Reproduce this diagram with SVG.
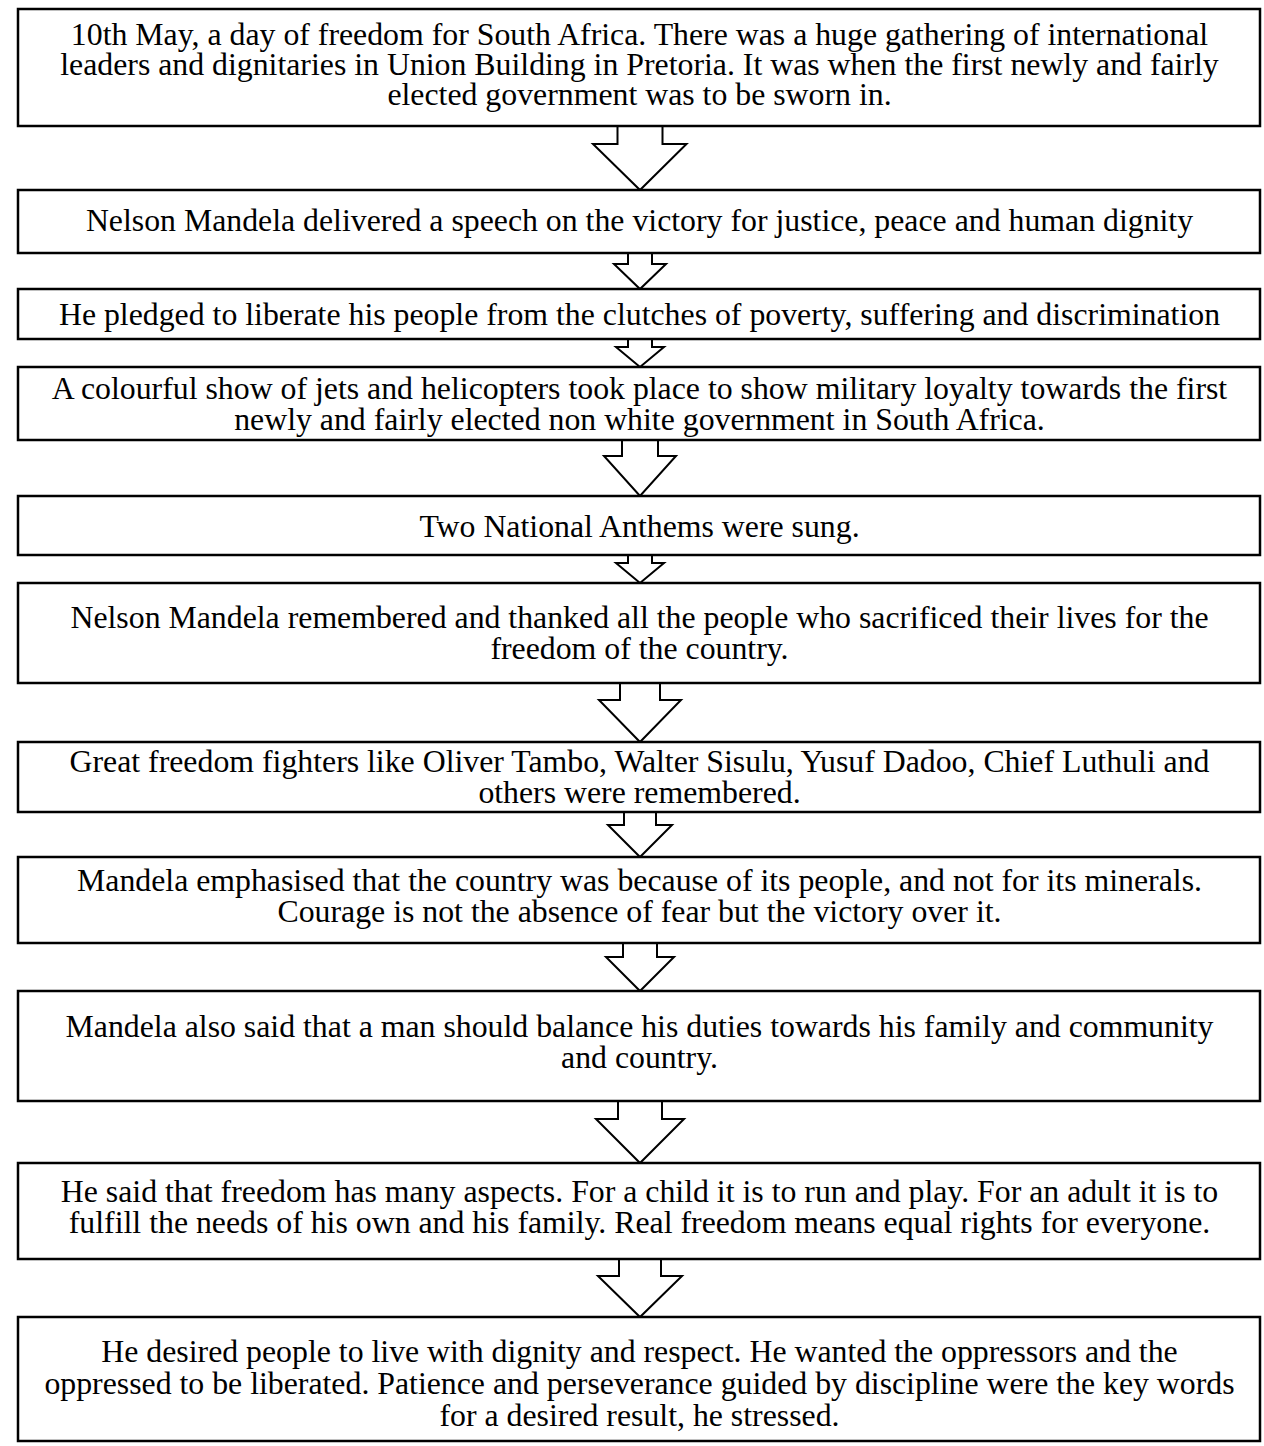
<svg xmlns="http://www.w3.org/2000/svg" width="1264" height="1446" viewBox="0 0 1264 1446">
<style>
.box{fill:#fff;stroke:#000;stroke-width:2.5}
.arr{fill:#fff;stroke:#000;stroke-width:2;stroke-linejoin:miter}
text{font-family:"Liberation Serif","Times New Roman",serif;font-size:31.8px;fill:#000;text-anchor:middle}
</style>
<rect width="1264" height="1446" fill="#fff"/>
<g id="connectors">
<polyline class="arr" points="617.5,126 617.5,144 593,144 640,190 686.5,144 662.5,144 662.5,126"/>
<polyline class="arr" points="628,253 628,264 614,264 640,289 666,264 652,264 652,253"/>
<polyline class="arr" points="628,339 628,347 616,347 640,367 664,347 652,347 652,339"/>
<polyline class="arr" points="622,440 622,456 604,456 640,496 676,456 658,456 658,440"/>
<polyline class="arr" points="628,555 628,563 616,563 640,583 664,563 652,563 652,555"/>
<polyline class="arr" points="620,683 620,700 599,700 640,742 681,700 660,700 660,683"/>
<polyline class="arr" points="624,812 624,825 608,825 640,857 672,825 656,825 656,812"/>
<polyline class="arr" points="623,943 623,957 606,957 640,991 674,957 657,957 657,943"/>
<polyline class="arr" points="618,1101 618,1119 596,1119 640,1163 684,1119 662,1119 662,1101"/>
<polyline class="arr" points="619,1259 619,1276 598,1276 640,1317 682,1276 661,1276 661,1259"/>
</g>
<g id="n1"><rect class="box" x="18" y="9" width="1242" height="117"/>
<text x="639.5" y="45">10th May, a day of freedom for South Africa. There was a huge gathering of international</text>
<text x="639.5" y="75">leaders and dignitaries in Union Building in Pretoria. It was when the first newly and fairly</text>
<text x="639.5" y="105">elected government was to be sworn in.</text></g>
<g id="n2"><rect class="box" x="18" y="190" width="1242" height="63"/>
<text x="639.5" y="231">Nelson Mandela delivered a speech on the victory for justice, peace and human dignity</text></g>
<g id="n3"><rect class="box" x="18" y="289" width="1242" height="50"/>
<text x="639.5" y="325">He pledged to liberate his people from the clutches of poverty, suffering and discrimination</text></g>
<g id="n4"><rect class="box" x="18" y="367" width="1242" height="73"/>
<text x="639.5" y="399">A colourful show of jets and helicopters took place to show military loyalty towards the first</text>
<text x="639.5" y="430">newly and fairly elected non white government in South Africa.</text></g>
<g id="n5"><rect class="box" x="18" y="496" width="1242" height="59"/>
<text x="639.5" y="537">Two National Anthems were sung.</text></g>
<g id="n6"><rect class="box" x="18" y="583" width="1242" height="100"/>
<text x="639.5" y="628">Nelson Mandela remembered and thanked all the people who sacrificed their lives for the</text>
<text x="639.5" y="659">freedom of the country.</text></g>
<g id="n7"><rect class="box" x="18" y="742" width="1242" height="70"/>
<text x="639.5" y="772">Great freedom fighters like Oliver Tambo, Walter Sisulu, Yusuf Dadoo, Chief Luthuli and</text>
<text x="639.5" y="803">others were remembered.</text></g>
<g id="n8"><rect class="box" x="18" y="857" width="1242" height="86"/>
<text x="639.5" y="891">Mandela emphasised that the country was because of its people, and not for its minerals.</text>
<text x="639.5" y="922">Courage is not the absence of fear but the victory over it.</text></g>
<g id="n9"><rect class="box" x="18" y="991" width="1242" height="110"/>
<text x="639.5" y="1037">Mandela also said that a man should balance his duties towards his family and community</text>
<text x="639.5" y="1068">and country.</text></g>
<g id="n10"><rect class="box" x="18" y="1163" width="1242" height="96"/>
<text x="639.5" y="1202">He said that freedom has many aspects. For a child it is to run and play. For an adult it is to</text>
<text x="639.5" y="1233">fulfill the needs of his own and his family. Real freedom means equal rights for everyone.</text></g>
<g id="n11"><rect class="box" x="18" y="1317" width="1242" height="124"/>
<text x="639.5" y="1362">He desired people to live with dignity and respect. He wanted the oppressors and the</text>
<text x="639.5" y="1394">oppressed to be liberated. Patience and perseverance guided by discipline were the key words</text>
<text x="639.5" y="1426">for a desired result, he stressed.</text></g>
</svg>
